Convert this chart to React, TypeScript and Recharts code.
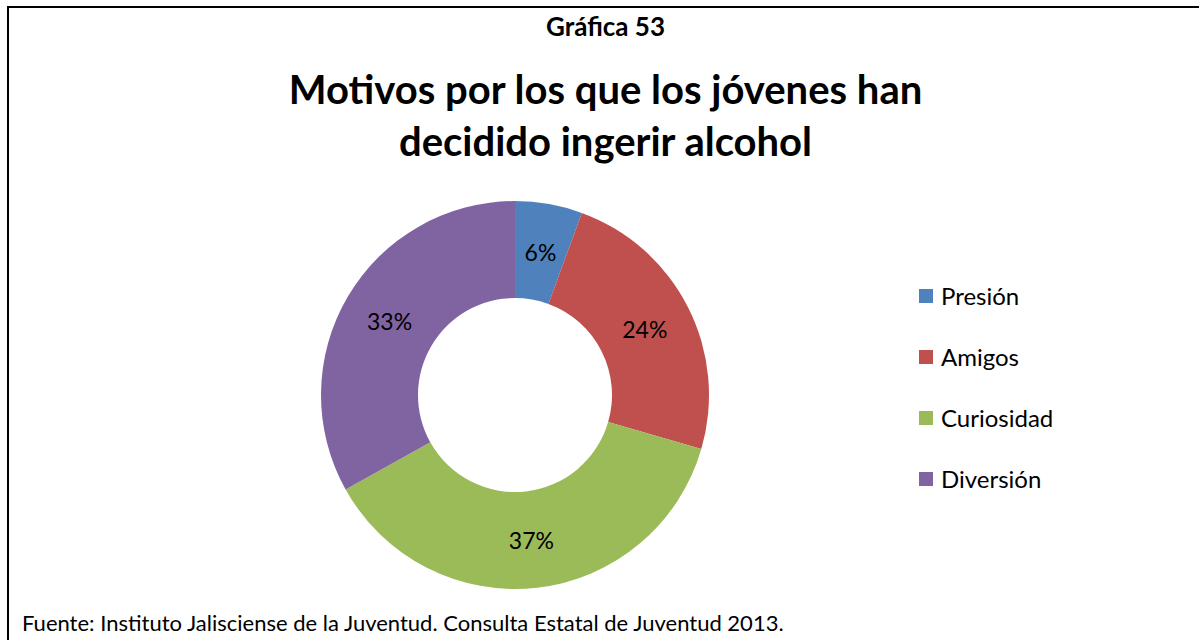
import { PieChart, Pie, Cell, Legend } from "recharts"

const categories = ["Presión", "Amigos", "Curiosidad", "Diversión"]
const shares = [5.6, 23.9, 37.4, 33.1]
const shareLabels = ["6%", "24%", "37%", "33%"]
const colors = ["#4f81bd", "#c0504d", "#9bbb59", "#8064a2"]

const data = categories.map((name, i) => ({ name, value: shares[i], label: shareLabels[i] }))

const font = "Lato, 'Liberation Sans', sans-serif"
const RAD = Math.PI / 180

const renderLabel = (props: any) => {
  const { cx, cy, midAngle, innerRadius, outerRadius, index } = props
  const r = (innerRadius + outerRadius) / 2
  const x = cx + r * Math.cos(-midAngle * RAD)
  const y = cy + r * Math.sin(-midAngle * RAD)
  return (
    <text x={x} y={y} textAnchor="middle" dominantBaseline="central" fontSize={23} fontFamily={font} fill="#000">
      {data[index].label}
    </text>
  )
}

const renderLegend = () => (
  <div style={{ fontFamily: font, fontSize: 24 }}>
    {data.map((d, i) => (
      <div key={d.name} style={{ display: "flex", alignItems: "center", height: 61 }}>
        <span style={{ width: 14, height: 14, background: colors[i], marginRight: 8 }} />
        <span>{d.name}</span>
      </div>
    ))}
  </div>
)

export default function App() {
  return (
    <div style={{ position: "absolute", left: 0, top: 0, width: 1199, height: 640, background: "#fff", overflow: "hidden", fontFamily: font }}>
      <div style={{ position: "absolute", left: 7, top: 6, width: 1200, height: 700, border: "2px solid #000" }} />
      <div style={{ position: "absolute", left: 0, width: 1211, top: 11, textAlign: "center", fontWeight: 700, fontSize: 26, lineHeight: 1.2 }}>
        Gráfica 53
      </div>
      <div style={{ position: "absolute", left: 0, width: 1211, top: 63, textAlign: "center", fontWeight: 700, fontSize: 40, lineHeight: "52px" }}>
        Motivos por los que los jóvenes han
        <br />
        decidido ingerir alcohol
      </div>
      <div style={{ position: "absolute", left: 0, top: 0 }}>
        <PieChart width={1199} height={640} margin={{ top: 0, right: 0, bottom: 0, left: 0 }}>
          <Pie
            data={data}
            dataKey="value"
            nameKey="name"
            cx={515}
            cy={395}
            innerRadius={97}
            outerRadius={194}
            startAngle={90}
            endAngle={-270}
            stroke="none"
            label={renderLabel}
            labelLine={false}
            isAnimationActive={false}
          >
            {data.map((d, i) => (
              <Cell key={d.name} fill={colors[i]} />
            ))}
          </Pie>
          <Legend content={renderLegend} layout="vertical" wrapperStyle={{ position: "absolute", left: 919, top: 265, width: 220 }} />
        </PieChart>
      </div>
      <div style={{ position: "absolute", left: 22, top: 609, fontSize: 22 }}>
        Fuente: Instituto Jalisciense de la Juventud. Consulta Estatal de Juventud 2013.
      </div>
    </div>
  )
}
